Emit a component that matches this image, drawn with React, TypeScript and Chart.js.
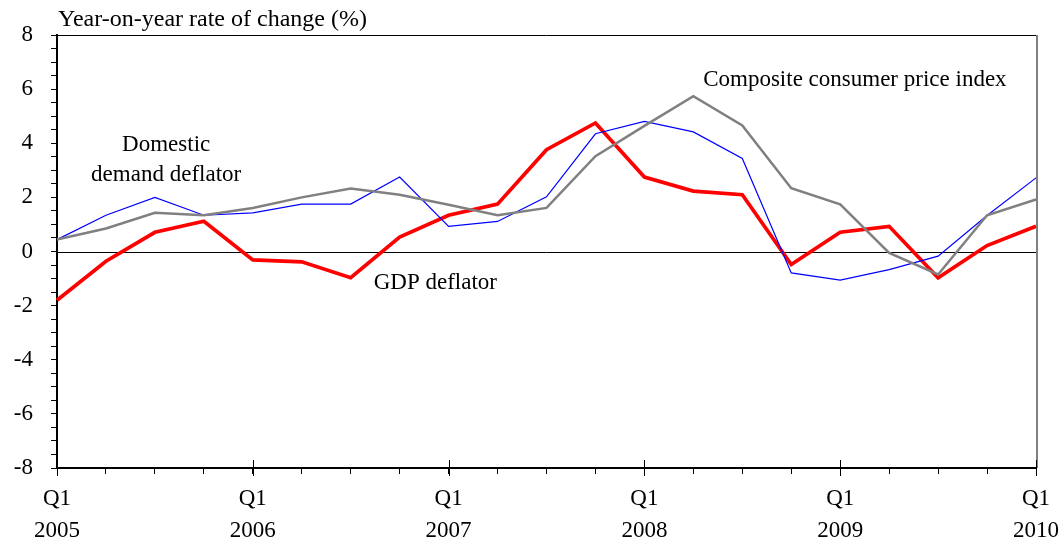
import React, { useEffect, useRef } from "react";
import { Chart, registerables } from "chart.js";

Chart.register(...registerables);

const quarters = [
  "2005Q1","2005Q2","2005Q3","2005Q4",
  "2006Q1","2006Q2","2006Q3","2006Q4",
  "2007Q1","2007Q2","2007Q3","2007Q4",
  "2008Q1","2008Q2","2008Q3","2008Q4",
  "2009Q1","2009Q2","2009Q3","2009Q4",
  "2010Q1",
];

const gdpDeflator = [-1.8, -0.36, 0.71, 1.12, -0.31, -0.38, -0.97, 0.53, 1.34, 1.75, 3.76, 4.75, 2.75, 2.23, 2.1, -0.48, 0.71, 0.93, -0.97, 0.22, 0.93];
const domesticDemandDeflator = [0.44, 1.34, 2.0, 1.34, 1.43, 1.75, 1.75, 2.75, 0.93, 1.11, 2.02, 4.35, 4.81, 4.42, 3.44, -0.79, -1.06, -0.67, -0.17, 1.33, 2.72];
const compositeCPI = [0.44, 0.85, 1.43, 1.34, 1.61, 2.0, 2.33, 2.1, 1.73, 1.34, 1.61, 3.52, 4.64, 5.74, 4.66, 2.34, 1.74, -0.05, -0.85, 1.34, 1.92];

const yMin = -8;
const yMax = 8;
const yLabelStep = 2;
const yMinorStep = 0.5;

const yTitle = "Year-on-year rate of change (%)";
const FONT = "'Liberation Serif', 'Times New Roman', serif";

const annotations = [
  { lines: ["Composite consumer price index"], x: 16.3, y: 6.33 },
  { lines: ["Domestic", "demand deflator"], x: 2.23, y: 3.95 },
  { lines: ["GDP deflator"], x: 7.73, y: -1.15 },
];

const overlayPlugin = {
  id: "overlay",
  afterDraw(chart: any) {
    const { ctx, chartArea, scales } = chart;
    const xs = scales.x;
    const ys = scales.y;
    ctx.save();
    ctx.strokeStyle = "#000";
    ctx.lineWidth = 1;
    ctx.beginPath();
    ctx.moveTo(chartArea.left, chartArea.top + 0.5);
    ctx.lineTo(chartArea.right, chartArea.top + 0.5);
    ctx.stroke();
    ctx.strokeStyle = "#808080";
    ctx.lineWidth = 2;
    ctx.beginPath();
    ctx.moveTo(chartArea.right + 1, chartArea.top);
    ctx.lineTo(chartArea.right + 1, chartArea.bottom);
    ctx.stroke();
    ctx.strokeStyle = "#000";
    ctx.lineWidth = 1;
    for (let i = 0; i < quarters.length; i += 4) {
      const px = Math.round(xs.getPixelForValue(i)) + 0.5;
      ctx.beginPath();
      ctx.moveTo(px, chartArea.bottom - 8);
      ctx.lineTo(px, chartArea.bottom + 8);
      ctx.stroke();
    }
    ctx.fillStyle = "#000";
    ctx.textBaseline = "middle";
    ctx.font = `24px ${FONT}`;
    ctx.textAlign = "left";
    ctx.fillText(yTitle, chartArea.left + 1, chartArea.top - 15);
    ctx.font = `23px ${FONT}`;
    ctx.textAlign = "center";
    for (const a of annotations) {
      const cx = xs.getPixelForValue(a.x);
      const cy = ys.getPixelForValue(a.y);
      a.lines.forEach((l, i) => {
        ctx.fillText(l, cx, cy + i * 30);
      });
    }
    ctx.restore();
  },
  beforeDatasetsDraw(chart: any) {
    const { ctx, chartArea, scales } = chart;
    const py = Math.round(scales.y.getPixelForValue(0)) + 0.5;
    ctx.save();
    ctx.strokeStyle = "#000";
    ctx.lineWidth = 1;
    ctx.beginPath();
    ctx.moveTo(chartArea.left, py);
    ctx.lineTo(chartArea.right, py);
    ctx.stroke();
    ctx.restore();
  },
};

export default function App() {
  const ref = useRef<HTMLCanvasElement>(null);
  useEffect(() => {
    document.body.style.margin = "0";
    const chart = new Chart(ref.current!, {
      type: "line",
      data: {
        labels: quarters,
        datasets: [
          {
            label: "Composite consumer price index",
            data: compositeCPI,
            borderColor: "#808080",
            borderWidth: 2.5,
            pointRadius: 0,
            tension: 0,
          },
          {
            label: "Domestic demand deflator",
            data: domesticDemandDeflator,
            borderColor: "#0000ff",
            borderWidth: 1.2,
            pointRadius: 0,
            tension: 0,
          },
          {
            label: "GDP deflator",
            data: gdpDeflator,
            borderColor: "#ff0000",
            borderWidth: 3.7,
            pointRadius: 0,
            tension: 0,
          },
        ],
      },
      options: {
        animation: false,
        responsive: false,
        layout: { padding: { top: 35, right: 28, left: 0, bottom: 0 } },
        plugins: { legend: { display: false }, tooltip: { enabled: false } },
        scales: {
          x: {
            type: "category",
            offset: false,
            border: { display: true, color: "#000", width: 2 },
            grid: { drawOnChartArea: false, drawTicks: true, tickLength: 6, color: "#000" },
            ticks: {
              autoSkip: false,
              maxRotation: 0,
              color: "#000",
              padding: 9,
              font: { family: FONT, size: 23, lineHeight: 1.4 },
              callback: (v: any, i: number) => {
                if (i % 4 !== 0) return "";
                return ["Q1", quarters[i].slice(0, 4)];
              },
            },
            afterFit: (s: any) => {
              s.height = 77;
              s.paddingLeft = 0;
              s.paddingRight = 0;
            },
          },
          y: {
            min: yMin,
            max: yMax,
            border: { display: true, color: "#000", width: 2 },
            grid: { drawOnChartArea: false, drawTicks: true, tickLength: 6, color: "#000" },
            ticks: {
              stepSize: yMinorStep,
              autoSkip: false,
              color: "#000",
              padding: 18,
              font: { family: FONT, size: 23 },
              callback: (v: any) => (Math.abs(v % yLabelStep) < 1e-9 ? String(v) : ""),
            },
            afterFit: (s: any) => { s.width = 57; },
          },
        },
      },
      plugins: [overlayPlugin],
    });
    return () => chart.destroy();
  }, []);
  return <canvas ref={ref} width={1064} height={545} style={{ display: "block" }} />;
}
